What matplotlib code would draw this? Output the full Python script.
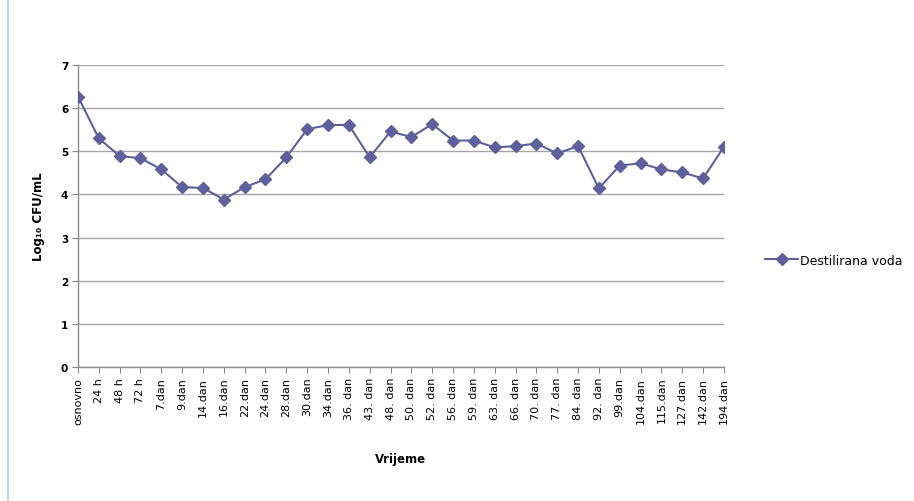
import matplotlib
matplotlib.use("Agg")
import matplotlib.pyplot as plt
from matplotlib.lines import Line2D

categories = ["osnovno", "24 h", "48 h", "72 h", "7.dan", "9.dan", "14.dan", "16.dan",
              "22.dan", "24.dan", "28.dan", "30.dan", "34.dan", "36. dan", "43. dan",
              "48. dan", "50. dan", "52. dan", "56. dan", "59. dan", "63. dan", "66. dan",
              "70. dan", "77. dan", "84. dan", "92. dan", "99.dan", "104.dan", "115.dan",
              "127.dan", "142.dan", "194.dan"]
values = [6.27, 5.30, 4.89, 4.84, 4.58, 4.17, 4.15, 3.88,
          4.17, 4.35, 4.86, 5.51, 5.61, 5.61, 4.86,
          5.46, 5.33, 5.63, 5.25, 5.25, 5.09, 5.12,
          5.18, 4.95, 5.12, 4.14, 4.67, 4.72, 4.58,
          4.51, 4.37, 5.10]
series_name = "Destilirana voda"
y_ticks = [0, 1, 2, 3, 4, 5, 6, 7]

color = "#5f5f9c"
fig = plt.figure(figsize=(9.14, 5.02), dpi=100)
ax = fig.add_axes([0.0853, 0.267, 0.7067, 0.6015])

x = list(range(len(categories)))
ax.plot(x, values, color=color, lw=1.5, marker="D", markersize=6.5,
        markerfacecolor=color, markeredgecolor=color, label=series_name, zorder=3)

ax.set_xlim(0, len(categories) - 1)
ax.set_ylim(0, 7)
ax.set_yticks(y_ticks)
ax.set_yticklabels([str(t) for t in y_ticks], fontsize=7.5, fontweight="bold")
ax.set_xticks(x)
ax.set_xticklabels(categories, rotation=90, fontsize=8)
ax.yaxis.grid(True, color="#a6a6a6", lw=1.0)
ax.set_axisbelow(True)
for s in ["top", "right"]:
    ax.spines[s].set_visible(False)
for s in ["left", "bottom"]:
    ax.spines[s].set_color("#8c8c8c")
    ax.spines[s].set_linewidth(1.0)
ax.tick_params(axis="both", direction="out", length=4, color="#8c8c8c", pad=3)

ax.set_ylabel("Log\u2081\u2080 CFU/mL", fontsize=8.5, fontweight="bold")
ax.set_xlabel("Vrijeme", fontsize=8.5, fontweight="bold")
ax.yaxis.set_label_coords(-0.051, 0.5)
ax.xaxis.set_label_coords(0.5, -0.28)

fig.legend(handles=[Line2D([0], [0], color=color, lw=1.5, marker="D", markersize=6.5)],
           labels=[series_name], loc="center left", bbox_to_anchor=(0.825, 0.48),
           frameon=False, fontsize=9, handlelength=2.6, handletextpad=0.2)

fig.add_artist(Line2D([0.009, 0.009], [0.0, 1.0], transform=fig.transFigure,
                      color="#b7dbe8", lw=1.5))

fig.savefig("out.png", dpi=100)
